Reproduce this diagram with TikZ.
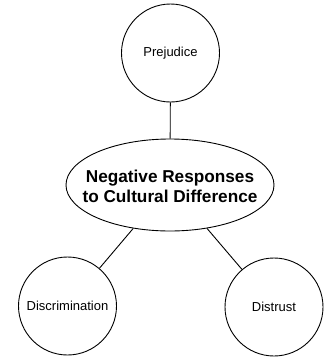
\documentclass[tikz,border=0pt]{standalone}
\usepackage{fontspec}
\setmainfont{Liberation Sans}
\usetikzlibrary{shapes.geometric}
\begin{document}
\begin{tikzpicture}[x=1pt,y=-1pt,
  bubble/.style={draw, circle, line width=0.9pt, minimum size=98pt, inner sep=0pt, font=\fontsize{13}{15}\selectfont},
  hub/.style={draw, ellipse, line width=0.9pt, minimum width=208pt, minimum height=92pt, inner sep=0pt},
  hubtext/.style={align=center, inner sep=0pt, font=\fontsize{17.2}{20}\selectfont\bfseries},
  link/.style={line width=0.9pt}]
\useasboundingbox (0,0) rectangle (334,359);
\node[bubble] (prej) at (170.5,53) {Prejudice};
\node[hub] (hub) at (170,185) {};
\node[hubtext] (hubt) at (170,186) {Negative Responses\\to Cultural Difference};
\node[bubble] (disc) at (67.5,306) {Discrimination};
\node[bubble] (dist) at (274,307) {Distrust};
\draw[link] (prej) -- (hub);
\draw[link] (hub) -- (disc);
\draw[link] (hub) -- (dist);
\end{tikzpicture}
\end{document}
